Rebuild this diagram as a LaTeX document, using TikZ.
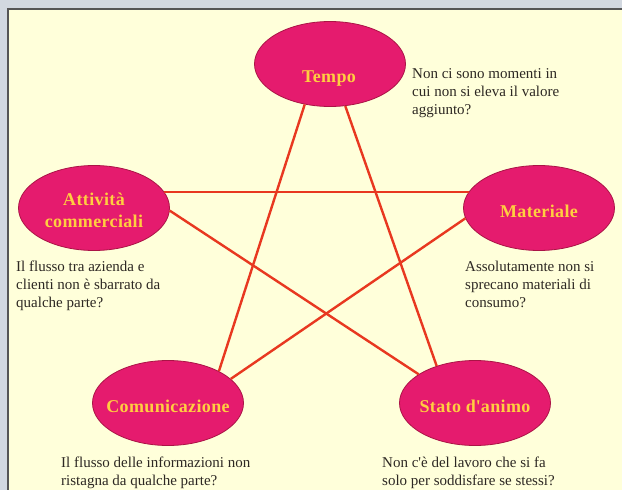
\documentclass[tikz,border=0pt]{standalone}
\usepackage{fontspec}
\setmainfont{Liberation Serif}
\newfontfamily\titlefont[LetterSpace=2]{Liberation Serif Bold}
\usetikzlibrary{shapes.geometric}
\definecolor{outerbg}{RGB}{210,216,224}
\definecolor{panelbg}{RGB}{255,255,218}
\definecolor{panelframe}{RGB}{85,85,85}
\definecolor{ellfill}{RGB}{229,27,110}
\definecolor{elldraw}{RGB}{170,20,70}
\definecolor{linkred}{RGB}{232,56,32}
\definecolor{titlecol}{RGB}{255,206,64}
\definecolor{notecol}{RGB}{45,40,35}
\begin{document}
\begin{tikzpicture}[x=1pt,y=-1pt,
  ell/.style={ellipse, draw=elldraw, line width=0.8pt, fill=ellfill, minimum width=151pt, minimum height=85pt, inner sep=0pt},
  ttl/.style={text=titlecol, font=\titlefont\fontsize{18}{22}\selectfont, inner sep=0pt, anchor=base, align=center},
  note/.style={text=notecol, font=\fontsize{15}{18}\selectfont, inner sep=0pt, anchor=north west, align=left},
  link/.style={draw=linkred, line width=2.4pt}]
\useasboundingbox (0,0) rectangle (622,490);
\fill[outerbg] (0,0) rectangle (622,490);
\fill[panelbg] (8,9) rectangle (622,490);
\draw[panelframe, line width=2pt] (8,490) -- (8,9) -- (622,9);

\node[ell] (tempo) at (330,64) {};
\node[ell] (att) at (94,208) {};
\node[ell] (mat) at (539,208) {};
\node[ell] (com) at (168,403) {};
\node[ell] (stato) at (475,403) {};

\draw[link] (tempo.-122) -- (com.32);
\draw[link] (tempo.-70) -- (stato.136);
\draw[link] (att.13) -- (mat.167);
\draw[link] (att.-2) -- (stato.153);
\draw[link] (mat.-172) -- (com.21);

\node[ttl] (tempoT) at (329,82) {Tempo};
\node[ttl, anchor=north] (attT) at (94,193) {Attività\\commerciali};
\node[ttl] (matT) at (539,217) {Materiale};
\node[ttl] (comT) at (168,412) {Comunicazione};
\node[ttl] (statoT) at (475,412) {Stato d\textquotesingle animo};

\node[note] (tempoN) at (412,68) {Non ci sono momenti in\\cui non si eleva il valore\\aggiunto?};
\node[note] (attN) at (16,261) {Il flusso tra azienda e\\clienti non è sbarrato da\\qualche parte?};
\node[note] (matN) at (465,261) {Assolutamente non si\\sprecano materiali di\\consumo?};
\node[note] (comN) at (61,457) {Il flusso delle informazioni non\\ristagna da qualche parte?};
\node[note] (statoN) at (382,457) {Non c\textquotesingle è del lavoro che si fa\\solo per soddisfare se stessi?};
\end{tikzpicture}
\end{document}
